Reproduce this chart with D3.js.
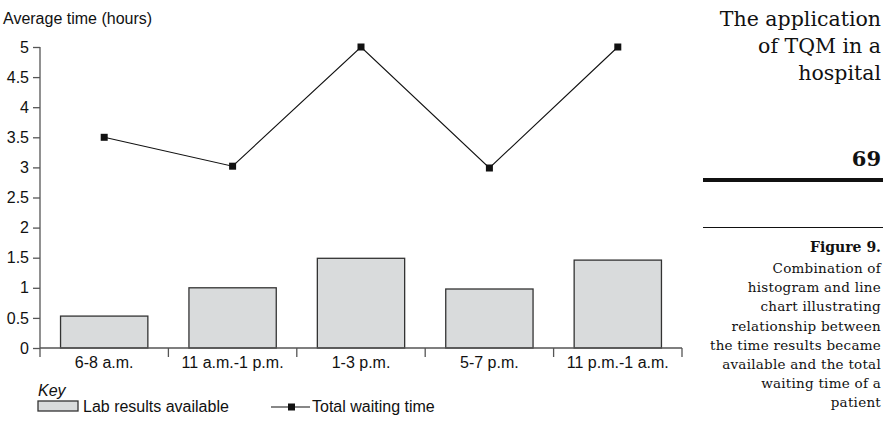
<!DOCTYPE html>
<html>
<head>
<meta charset="utf-8">
<script src="https://cdn.jsdelivr.net/npm/d3@7"></script>
<style>
  body { margin: 0; background: #fff; }
  svg { display: block; }
</style>
</head>
<body>
<svg id="chart"></svg>
<script>
// data
const categories = ["6-8 a.m.", "11 a.m.-1 p.m.", "1-3 p.m.", "5-7 p.m.", "11 p.m.-1 a.m."];
const labResults = [0.53, 1.0, 1.49, 0.98, 1.46];
const totalWaiting = [3.5, 3.02, 5.0, 2.99, 5.0];
const yTicks = [0, 0.5, 1, 1.5, 2, 2.5, 3, 3.5, 4, 4.5, 5];
const sideTitle = ["The application", "of TQM in a", "hospital"];
const caption = ["Combination of", "histogram and line", "chart illustrating",
  "relationship between", "the time results became", "available and the total",
  "waiting time of a", "patient"];

const W = 886, H = 422;
const margin = {top: 47, left: 40};
const plotW = 642, plotH = 301;

const svg = d3.select("#chart").attr("width", W).attr("height", H);
const g = svg.append("g").attr("transform", "translate(" + margin.left + "," + margin.top + ")");

const x = d3.scaleBand().domain(categories).range([0, plotW]).paddingInner(0.32).paddingOuter(0.16);
const xb = d3.scaleBand().domain(categories).range([0, plotW]); // full bands for ticks
const y = d3.scaleLinear().domain([0, 5]).range([plotH, 0]);

const sans = "'Liberation Sans', Arial, sans-serif";
const serif = "'DejaVu Serif', serif";
const axisColor = "#555";
const fs = 16;

// bars
g.selectAll("rect.bar")
  .data(labResults)
  .join("rect")
  .attr("class", "bar")
  .attr("x", (d, i) => x(categories[i]))
  .attr("y", d => y(d))
  .attr("width", x.bandwidth())
  .attr("height", d => y(0) - y(d))
  .attr("fill", "#d9dbdc")
  .attr("stroke", "#333")
  .attr("stroke-width", 1.3);

// y axis
const yAxis = g.append("g")
  .call(d3.axisLeft(y).tickValues(yTicks).tickSize(7).tickPadding(4).tickFormat(d3.format("")));
yAxis.select(".domain").attr("stroke", axisColor).attr("stroke-width", 1.3).attr("d", "M0," + y(5) + "V" + y(0));
yAxis.selectAll(".tick line").attr("stroke", axisColor).attr("stroke-width", 1.3);
yAxis.selectAll(".tick text").attr("font-family", sans).attr("font-size", fs).attr("fill", "#111");

// x axis: ticks at band boundaries
g.append("line")
  .attr("x1", 0).attr("x2", plotW)
  .attr("y1", y(0)).attr("y2", y(0))
  .attr("stroke", axisColor).attr("stroke-width", 1.3);
const bounds = categories.map(c => xb(c)).concat([plotW]);
g.selectAll("line.xtick")
  .data(bounds)
  .join("line")
  .attr("class", "xtick")
  .attr("x1", d => d).attr("x2", d => d)
  .attr("y1", y(0)).attr("y2", y(0) + 9)
  .attr("stroke", axisColor).attr("stroke-width", 1.3);
g.selectAll("text.xlab")
  .data(categories)
  .join("text")
  .attr("class", "xlab")
  .attr("x", d => xb(d) + xb.bandwidth() / 2)
  .attr("y", y(0) + 20)
  .attr("text-anchor", "middle")
  .attr("font-family", sans).attr("font-size", fs).attr("fill", "#111")
  .text(d => d);

// line series
const line = d3.line()
  .x((d, i) => xb(categories[i]) + xb.bandwidth() / 2)
  .y(d => y(d));
g.append("path")
  .datum(totalWaiting)
  .attr("d", line)
  .attr("fill", "none")
  .attr("stroke", "#111")
  .attr("stroke-width", 1.1);
g.selectAll("rect.pt")
  .data(totalWaiting)
  .join("rect")
  .attr("class", "pt")
  .attr("x", (d, i) => xb(categories[i]) + xb.bandwidth() / 2 - 3.5)
  .attr("y", d => y(d) - 3.5)
  .attr("width", 7).attr("height", 7)
  .attr("fill", "#111");

// y title
svg.append("text")
  .attr("x", 3).attr("y", 24)
  .attr("font-family", sans).attr("font-size", fs).attr("fill", "#111")
  .text("Average time (hours)");

// key
svg.append("text")
  .attr("x", 38).attr("y", 396)
  .attr("font-family", sans).attr("font-size", fs).attr("font-style", "italic").attr("fill", "#111")
  .text("Key");
svg.append("rect")
  .attr("x", 38).attr("y", 401).attr("width", 40).attr("height", 10)
  .attr("fill", "#d9dbdc").attr("stroke", "#333").attr("stroke-width", 1.3);
svg.append("text")
  .attr("x", 83).attr("y", 412)
  .attr("font-family", sans).attr("font-size", fs).attr("fill", "#111")
  .text("Lab results available");
svg.append("line")
  .attr("x1", 271).attr("x2", 310).attr("y1", 407).attr("y2", 407)
  .attr("stroke", "#111").attr("stroke-width", 1.1);
svg.append("rect")
  .attr("x", 288).attr("y", 403.5).attr("width", 7).attr("height", 7).attr("fill", "#111");
svg.append("text")
  .attr("x", 312).attr("y", 412)
  .attr("font-family", sans).attr("font-size", fs).attr("fill", "#111")
  .text("Total waiting time");

// right-hand page furniture
const rx = 881;
svg.selectAll("text.side")
  .data(sideTitle)
  .join("text")
  .attr("class", "side")
  .attr("x", rx).attr("y", (d, i) => 26 + i * 27)
  .attr("text-anchor", "end")
  .attr("font-family", serif).attr("font-size", 20.5).attr("fill", "#111")
  .text(d => d);
svg.append("text")
  .attr("x", rx).attr("y", 166)
  .attr("text-anchor", "end")
  .attr("font-family", serif).attr("font-size", 21).attr("font-weight", "bold").attr("fill", "#111")
  .text("69");
svg.append("rect")
  .attr("x", 703).attr("y", 178).attr("width", 180).attr("height", 4).attr("fill", "#111");
svg.append("rect")
  .attr("x", 703).attr("y", 227).attr("width", 180).attr("height", 1).attr("fill", "#111");
svg.append("text")
  .attr("x", rx).attr("y", 252)
  .attr("text-anchor", "end")
  .attr("font-family", serif).attr("font-size", 14).attr("font-weight", "bold").attr("fill", "#111")
  .text("Figure 9.");
svg.selectAll("text.cap")
  .data(caption)
  .join("text")
  .attr("class", "cap")
  .attr("x", rx).attr("y", (d, i) => 273 + i * 19.2)
  .attr("text-anchor", "end")
  .attr("font-family", serif).attr("font-size", 13.5).attr("letter-spacing", 0.25).attr("fill", "#111")
  .text(d => d);
</script>
</body>
</html>
